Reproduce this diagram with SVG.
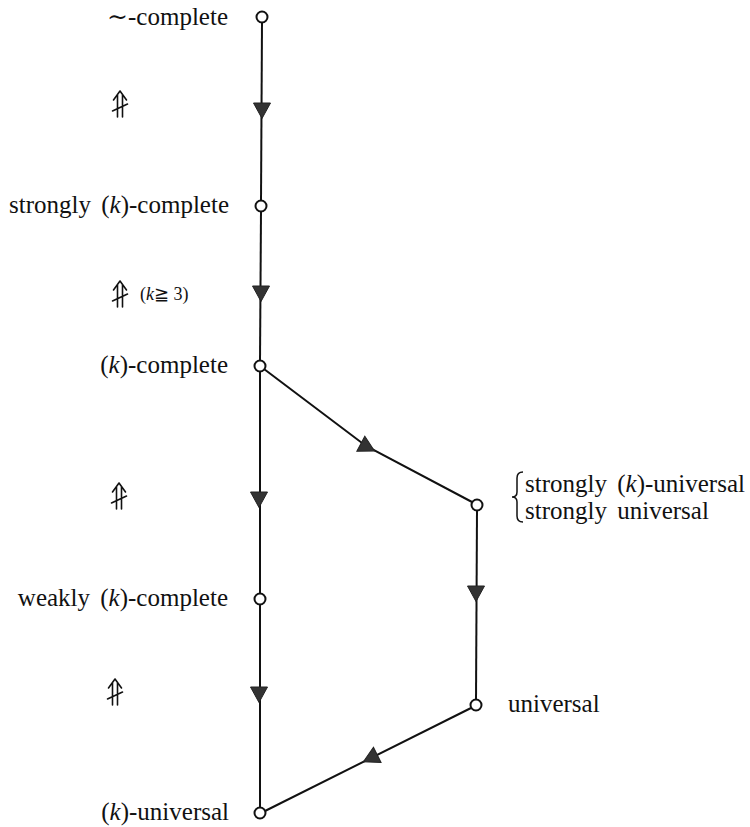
<svg xmlns="http://www.w3.org/2000/svg" width="750" height="827" viewBox="0 0 750 827">
<style>
.lbl{font-family:"Liberation Serif","DejaVu Serif",serif;font-size:25px;fill:#111}
.it{font-style:italic}
.edge{stroke:#111;stroke-width:2;fill:none}
.node{fill:#fff;stroke:#111;stroke-width:2}
.ah{fill:#333;stroke:#222;stroke-width:1}
.ni{stroke:#111;stroke-width:1.6;fill:none;stroke-linecap:round;stroke-linejoin:round}
</style>
<defs>
<g id="notimp">
<path class="ni" d="M-2.5 -9 V13 M2.5 -9 V13 M-6.5 -4 L0 -13 L6.5 -4 M-7.5 7 L7.5 0"/>
</g>
<path id="tri" class="ah" d="M-8.5 -7 L8.5 -7 L0 8.5 Z"/>
</defs>
<rect width="750" height="827" fill="#fff"/>
<g id="connectors">
<path class="edge" d="M262 22 L261 201"/>
<path class="edge" d="M261 211 L260 361"/>
<path class="edge" d="M260 371 L260 594"/>
<path class="edge" d="M260 604 L260 808"/>
<path class="edge" d="M264 369 L366 446 L472 502"/>
<path class="edge" d="M477 510 L476 700"/>
<path class="edge" d="M471 708 L265 811"/>
<use href="#tri" transform="translate(262,110)"/>
<use href="#tri" transform="translate(261,293)"/>
<use href="#tri" transform="translate(259,499)"/>
<use href="#tri" transform="translate(259,694)"/>
<use href="#tri" transform="translate(476,593)"/>
<use href="#tri" transform="translate(367,447) rotate(-62)"/>
<use href="#tri" transform="translate(371,758) rotate(63.5)"/>
</g>
<g id="n-tilde-complete">
<circle class="node" cx="262" cy="17" r="5.5"/>
<text class="lbl" x="228" y="25" text-anchor="end">∼-complete</text>
</g>
<g id="n-strongly-k-complete">
<circle class="node" cx="261" cy="206" r="5.5"/>
<text class="lbl" x="229" y="213" text-anchor="end">strongly <tspan dx="4">(</tspan><tspan class="it">k</tspan>)-complete</text>
</g>
<g id="n-k-complete">
<circle class="node" cx="260" cy="366" r="5.5"/>
<text class="lbl" x="228" y="373" text-anchor="end">(<tspan class="it">k</tspan>)-complete</text>
</g>
<g id="n-weakly-k-complete">
<circle class="node" cx="260" cy="599" r="5.5"/>
<text class="lbl" x="228" y="606" text-anchor="end">weakly <tspan dx="4">(</tspan><tspan class="it">k</tspan>)-complete</text>
</g>
<g id="n-k-universal">
<circle class="node" cx="260" cy="813" r="5.5"/>
<text class="lbl" x="229" y="820" text-anchor="end">(<tspan class="it">k</tspan>)-universal</text>
</g>
<g id="n-strongly-universal">
<circle class="node" cx="477" cy="505" r="5.5"/>
<path class="edge" style="stroke-width:1.5" d="M523 472 Q517 472 517 478 L517 492 Q517 497 512 497 Q517 497 517 502 L517 516 Q517 522 523 522"/>
<text class="lbl" x="525" y="492">strongly <tspan dx="4">(</tspan><tspan class="it">k</tspan>)-universal</text>
<text class="lbl" x="525" y="519">strongly <tspan dx="4">universal</tspan></text>
</g>
<g id="n-universal">
<circle class="node" cx="476" cy="705" r="5.5"/>
<text class="lbl" x="508" y="712">universal</text>
</g>
<g id="notes">
<use href="#notimp" transform="translate(120,104)"/>
<use href="#notimp" transform="translate(120,294)"/>
<use href="#notimp" transform="translate(119,496)"/>
<use href="#notimp" transform="translate(115,692)"/>
<text class="lbl" style="font-size:18px" x="140" y="300">(<tspan class="it">k</tspan>≧ 3)</text>
</g>
</svg>
